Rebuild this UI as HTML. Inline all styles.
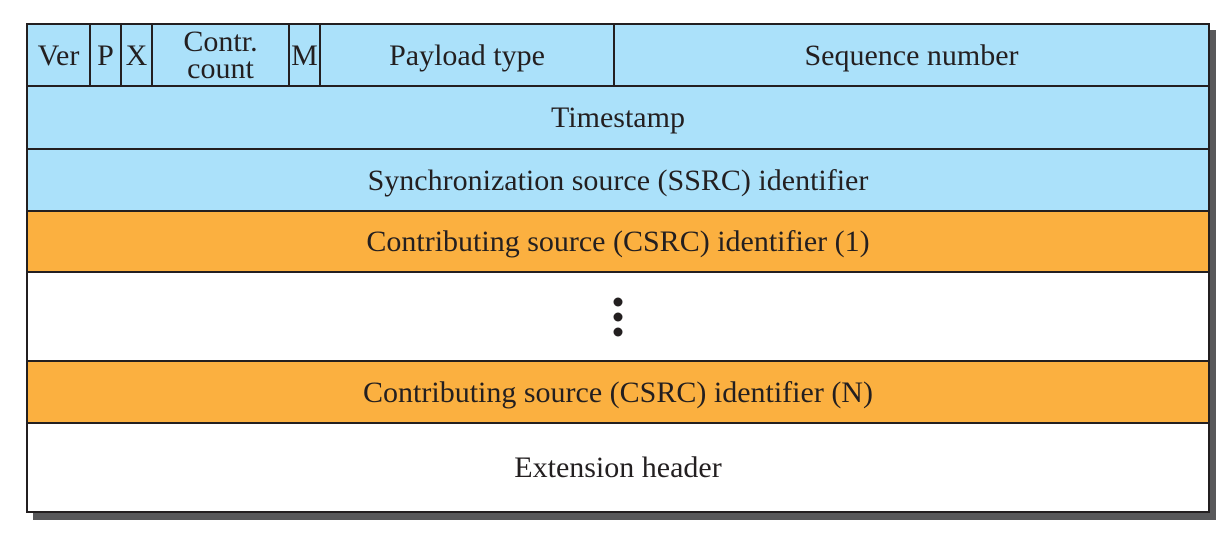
<!DOCTYPE html><html><head><style>
body{margin:0;width:1227px;height:538px;background:#fff;position:relative;font-family:"Liberation Serif",serif;color:#231f20}
.sh{position:absolute;left:33px;top:30px;width:1183px;height:490px;background:#58585a}
.b{position:absolute;box-sizing:border-box;border:2px solid #231f20;display:flex;align-items:center;justify-content:center;font-size:30px;text-align:center;line-height:27px}
.bl{background:#abe1fa}.or{background:#fbb040}.w{background:#fff}
</style></head><body>
<div class="sh"></div>
<div class="b bl" style="left:26px;top:23px;width:65px;height:64px">Ver</div>
<div class="b bl" style="left:89px;top:23px;width:33px;height:64px">P</div>
<div class="b bl" style="left:120px;top:23px;width:33px;height:64px">X</div>
<div class="b bl" style="left:151px;top:23px;width:139px;height:64px">Contr.<br>count</div>
<div class="b bl" style="left:288px;top:23px;width:33px;height:64px">M</div>
<div class="b bl" style="left:319px;top:23px;width:296px;height:64px">Payload type</div>
<div class="b bl" style="left:613px;top:23px;width:597px;height:64px">Sequence number</div>
<div class="b bl" style="left:26px;top:85px;width:1184px;height:65px">Timestamp</div>
<div class="b bl" style="left:26px;top:148px;width:1184px;height:64px">Synchronization source (SSRC) identifier</div>
<div class="b or" style="left:26px;top:210px;width:1184px;height:63px">Contributing source (CSRC) identifier (1)</div>
<div class="b w" style="left:26px;top:271px;width:1184px;height:91px"><svg width="12" height="40"><circle cx="6" cy="5" r="4.5" fill="#231f20"/><circle cx="6" cy="20" r="4.5" fill="#231f20"/><circle cx="6" cy="35" r="4.5" fill="#231f20"/></svg></div>
<div class="b or" style="left:26px;top:360px;width:1184px;height:64px">Contributing source (CSRC) identifier (N)</div>
<div class="b w" style="left:26px;top:422px;width:1184px;height:91px">Extension header</div>
</body></html>
